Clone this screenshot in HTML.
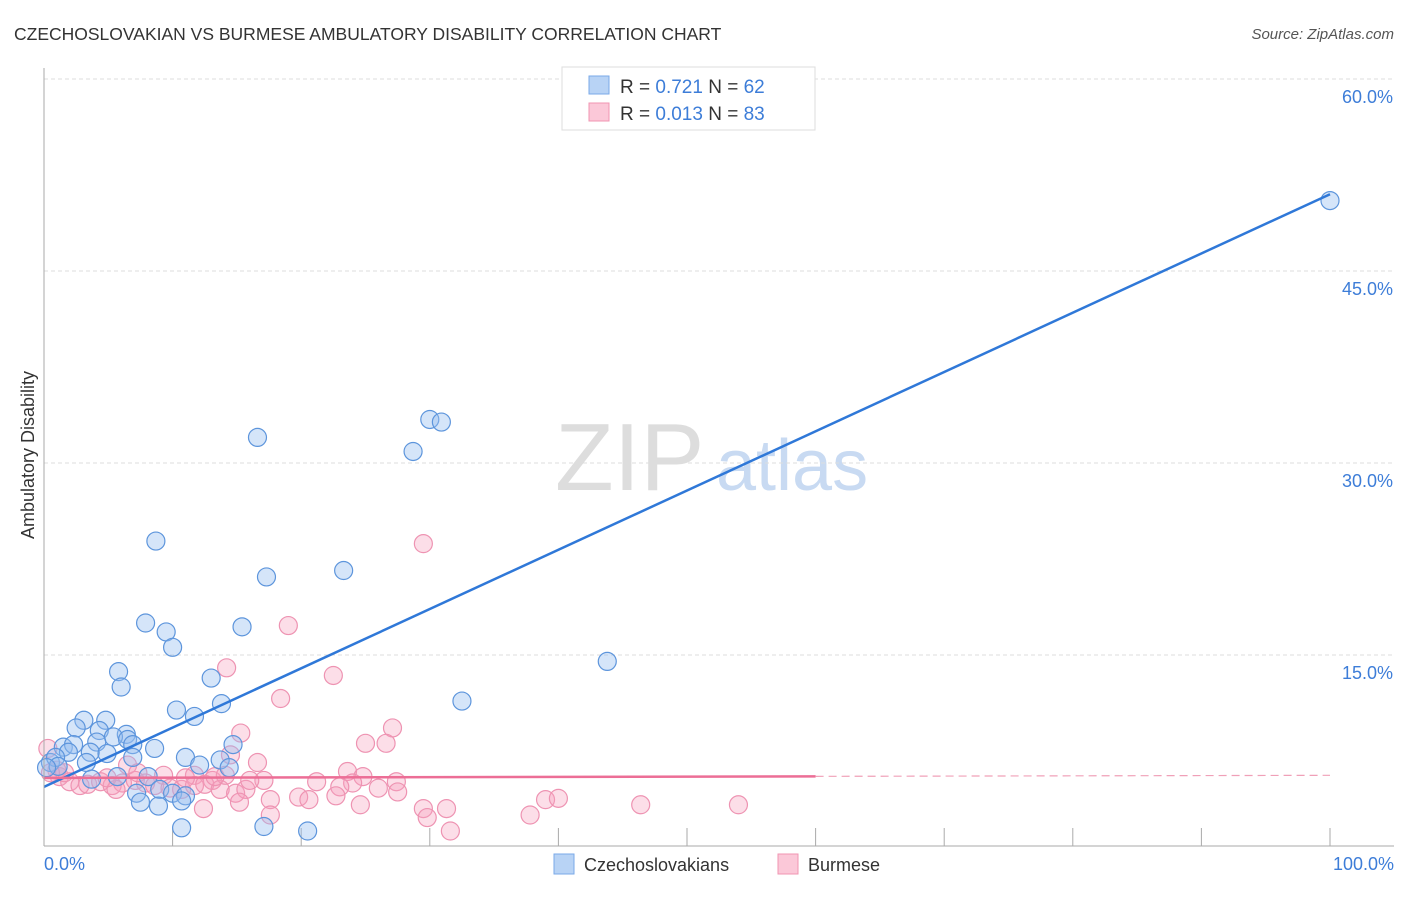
<!DOCTYPE html>
<html><head><meta charset="utf-8"><style>
body{margin:0;background:#fff;font-family:"Liberation Sans",sans-serif;}
svg text{font-family:"Liberation Sans",sans-serif;}
</style></head><body>
<svg id="chart" width="1406" height="892">
<text x="14" y="40" font-size="17.5" fill="#333">CZECHOSLOVAKIAN VS BURMESE AMBULATORY DISABILITY CORRELATION CHART</text>
<text x="1394" y="39" font-size="15" fill="#555" font-style="italic" text-anchor="end">Source: ZipAtlas.com</text>
<text x="34" y="455" font-size="18" fill="#333" text-anchor="middle" transform="rotate(-90 34 455)">Ambulatory Disability</text>
<g><text x="555" y="490" font-size="96" font-family="Liberation Serif" fill="#ddd">ZIP</text><text x="716" y="490" font-size="72" fill="#c8daf2">atlas</text></g>
<g id="grid"></g><g id="ticks"></g><g id="pts"></g><g id="lines"></g>
<line x1="44" y1="68" x2="44" y2="846" stroke="#aaa"/>
<line x1="44" y1="846" x2="1394" y2="846" stroke="#aaa"/>
<text x="44" y="870" font-size="18" fill="#3d7dd8">0.0%</text>
<text x="1394" y="870" font-size="18" fill="#3d7dd8" text-anchor="end">100.0%</text>
<g>
<rect x="562" y="67" width="253" height="63" fill="#fff" stroke="#ddd"/>
<rect x="589" y="76" width="20" height="18" fill="#b8d3f5" stroke="#7aa9e8"/>
<rect x="589" y="103" width="20" height="18" fill="#fbc8d8" stroke="#f095b2"/>
<text x="620" y="93" font-size="19" fill="#333">R = <tspan fill="#3d7dd8">0.721</tspan>   N = <tspan fill="#3d7dd8">62</tspan></text>
<text x="620" y="120" font-size="19" fill="#333">R = <tspan fill="#3d7dd8">0.013</tspan>   N = <tspan fill="#3d7dd8">83</tspan></text>
</g>
<g>
<rect x="554" y="854" width="20" height="20" fill="#b8d3f5" stroke="#7aa9e8"/>
<text x="584" y="871" font-size="18" fill="#333">Czechoslovakians</text>
<rect x="778" y="854" width="20" height="20" fill="#fbc8d8" stroke="#f095b2"/>
<text x="808" y="871" font-size="18" fill="#333">Burmese</text>
</g>
</svg>
<script>
const yTicks=[15,30,45,60];
const yTickLabels=["15.0%","30.0%","45.0%","60.0%"];
const xTicks=[0,10,20,30,40,50,60,70,80,90,100];
const blueX=[100,16.6,28.7,30.0,30.9,8.7,17.3,23.3,7.9,9.5,10.0,15.4,43.8,5.8,6.0,13.0,32.5,10.3,11.7,13.8,3.1,4.8,2.5,4.3,6.4,5.4,6.5,6.9,4.1,1.5,2.3,14.7,8.6,1.9,3.6,4.9,11.0,6.9,13.7,12.1,14.4,3.3,0.5,0.9,1.1,0.2,8.1,5.7,3.7,9.0,7.2,10.0,11.0,7.5,8.9,10.7,10.7,17.1,20.5];
const blueY=[50.5,32.0,30.9,33.4,33.2,23.9,21.1,21.6,17.5,16.8,15.6,17.2,14.5,13.7,12.5,13.2,11.4,10.7,10.2,11.2,9.9,9.9,9.3,9.1,8.8,8.6,8.4,8.0,8.2,7.8,8.0,8.0,7.7,7.4,7.4,7.3,7.0,7.0,6.8,6.4,6.2,6.6,6.6,7.0,6.3,6.2,5.5,5.5,5.3,4.5,4.2,4.2,4.0,3.5,3.2,3.6,1.5,1.6,1.25];
const pinkX=[29.5,19.0,22.5,14.2,18.4,15.3,27.1,25.0,26.6,16.6,14.5,6.5,0.3,11.7,23.6,24.8,9.3,13.1,17.1,21.2,24.0,27.4,23.0,26.0,27.5,1.2,2.0,2.8,3.4,4.4,5.3,6.1,7.1,7.9,8.6,9.8,10.7,11.7,12.5,13.7,14.9,15.7,16.0,14.1,13.3,1.0,1.6,0.5,19.8,20.6,22.7,15.2,17.6,12.4,17.6,24.6,29.5,31.3,29.8,31.6,37.8,39.0,40.0,46.4,54.0,5.6,4.9,7.3,11.0];
const pinkY=[23.7,17.3,13.4,14.0,11.6,8.9,9.3,8.1,8.1,6.6,7.2,6.4,7.7,5.6,5.9,5.5,5.6,5.2,5.2,5.1,5.0,5.1,4.7,4.6,4.3,5.5,5.1,4.8,4.9,5.1,4.8,5.0,5.2,5.0,4.8,4.6,4.5,4.8,4.9,4.5,4.2,4.5,5.2,5.6,5.5,6.0,5.8,5.8,3.9,3.7,4.0,3.5,3.7,3.0,2.5,3.3,3.0,3.0,2.3,1.25,2.5,3.7,3.8,3.3,3.3,4.5,5.4,5.8,5.4];
const blueTrend=[4.7,51.0];
const pinkTrend=[5.4,5.6];
const pinkSolidEnd=60;
const NS='http://www.w3.org/2000/svg';
const X=v=>44+v*12.86, Y=v=>847-v*12.8;
function mk(t,a,p){const e=document.createElementNS(NS,t);for(const k in a)e.setAttribute(k,a[k]);document.getElementById(p).appendChild(e);return e;}
yTicks.forEach((t,i)=>{
 const g=mk('line',{x1:44,x2:1394,y1:Y(t),y2:Y(t),stroke:'#ddd','stroke-dasharray':'4,3'},'grid');
 
 
 const l=mk('text',{x:1393,y:Y(t)+24,'font-size':18,fill:'#3d7dd8','text-anchor':'end'},'grid');
 l.textContent=yTickLabels[i];
 
 
});
xTicks.forEach(t=>{
 const k=mk('line',{x1:X(t),x2:X(t),y1:828,y2:846,stroke:'#aaa'},'ticks');
 
 
});
pinkX.forEach((x,i)=>{
 const c=mk('circle',{cx:X(x),cy:Y(pinkY[i]),r:9,fill:'rgba(246,160,190,0.35)',stroke:'#ee93b2','stroke-width':1.2},'pts');
 
 
});
blueX.forEach((x,i)=>{
 const c=mk('circle',{cx:X(x),cy:Y(blueY[i]),r:9,fill:'rgba(150,190,240,0.4)',stroke:'#5d95dc','stroke-width':1.2},'pts');
 
 
});
const bt=mk('line',{x1:X(0),y1:Y(blueTrend[0]),x2:X(100),y2:Y(blueTrend[1]),stroke:'#2f78d8','stroke-width':2.5},'lines');


const py=v=>pinkTrend[0]+(pinkTrend[1]-pinkTrend[0])*v/100;
const pt=mk('line',{x1:X(0),y1:Y(py(0)),x2:X(pinkSolidEnd),y2:Y(py(pinkSolidEnd)),stroke:'#ec6e96','stroke-width':2.5},'lines');


const pd=mk('line',{x1:X(pinkSolidEnd),y1:Y(py(pinkSolidEnd)),x2:X(100),y2:Y(py(100)),stroke:'#f0a0b8','stroke-width':1.2,'stroke-dasharray':'8,5'},'lines');


</script>
</body></html>
